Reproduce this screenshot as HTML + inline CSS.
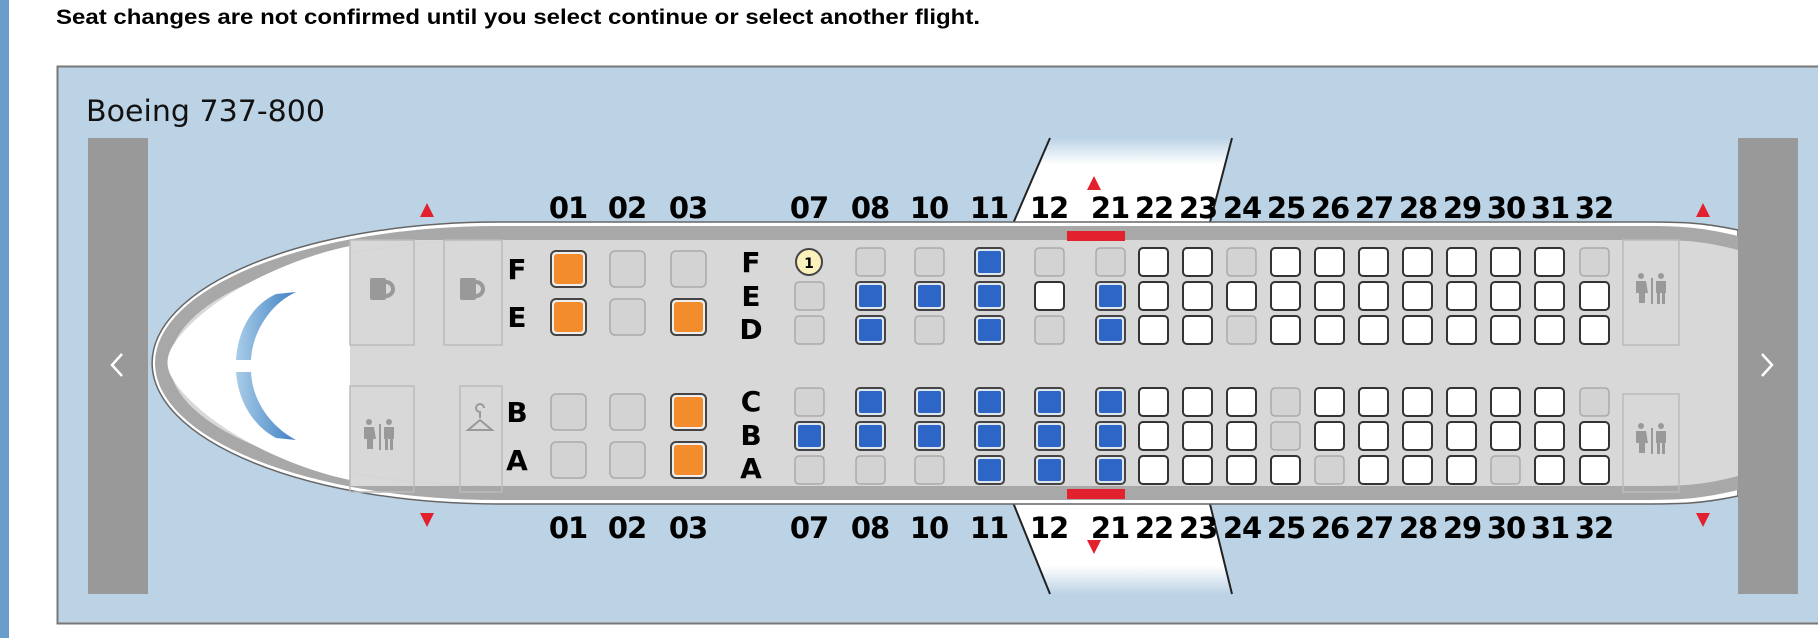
<!DOCTYPE html>
<html><head><meta charset="utf-8"><style>
html,body{margin:0;padding:0;background:#fff;width:1818px;height:638px;overflow:hidden}
svg{position:absolute;left:0;top:0}
</style></head><body>
<svg width="1818" height="638" viewBox="0 0 1818 638" xmlns="http://www.w3.org/2000/svg">
<defs>
<symbol id="w" viewBox="0 0 31 30"><rect x="1" y="1" width="29" height="28" rx="4" fill="#fff" stroke="#333" stroke-width="2"/></symbol>
<symbol id="g" viewBox="0 0 31 30"><rect x="1" y="1" width="29" height="28" rx="4" fill="#d3d3d3" stroke="#aaa" stroke-width="1.5"/></symbol>
<symbol id="b" viewBox="0 0 31 30"><rect x="1" y="1" width="29" height="28" rx="4" fill="#dfe6ee" stroke="#444" stroke-width="2"/><rect x="4" y="4" width="23" height="22" rx="2" fill="#2e66c8"/></symbol>
<symbol id="o" viewBox="0 0 37 38"><rect x="1" y="1" width="35" height="36" rx="5" fill="#eee" stroke="#444" stroke-width="2"/><rect x="4" y="4" width="29" height="30" rx="3" fill="#f28c2c"/></symbol>
<symbol id="G" viewBox="0 0 37 38"><rect x="1" y="1" width="35" height="36" rx="5" fill="#d3d3d3" stroke="#aaa" stroke-width="1.5"/></symbol>
<linearGradient id="wt" x1="0" y1="0" x2="0" y2="1"><stop offset="0" stop-color="#bcd3e6"/><stop offset="0.3" stop-color="#fff"/></linearGradient>
<linearGradient id="wb" x1="0" y1="1" x2="0" y2="0"><stop offset="0" stop-color="#bcd3e6"/><stop offset="0.3" stop-color="#fff"/></linearGradient>
<linearGradient id="ws" x1="0" y1="0" x2="1" y2="0"><stop offset="0" stop-color="#a9cde8"/><stop offset="1" stop-color="#3f7fc4"/></linearGradient>
</defs>
<rect x="0" y="0" width="9" height="638" fill="#6a9ccc"/>
<text x="56" y="24" font-family="Liberation Sans, sans-serif" font-weight="bold" font-size="21" fill="#000" textLength="924" lengthAdjust="spacingAndGlyphs">Seat changes are not confirmed until you select continue or select another flight.</text>
<rect x="57.5" y="66.5" width="1770" height="557" fill="#bcd3e6" stroke="#777" stroke-width="2"/>
<text x="86" y="121" font-family="DejaVu Sans, sans-serif" font-size="29" fill="#111" textLength="239" lengthAdjust="spacingAndGlyphs">Boeing 737-800</text>
<!-- wings -->
<polygon points="1050,138 1232,138 1209,226 1012,226" fill="url(#wt)"/>
<line x1="1050" y1="138" x2="1012" y2="226" stroke="#222" stroke-width="2"/>
<line x1="1232" y1="138" x2="1209" y2="226" stroke="#222" stroke-width="2"/>
<polygon points="1012,500 1209,500 1232,594 1050,594" fill="url(#wb)"/>
<line x1="1050" y1="594" x2="1012" y2="500" stroke="#222" stroke-width="2"/>
<line x1="1232" y1="594" x2="1209" y2="500" stroke="#222" stroke-width="2"/>
<!-- fuselage -->
<path d="M1738,230 C1700,222 1680,222 1640,222 L498,222 A346,141 0 0 0 498,504 L1640,504 C1680,504 1700,504 1738,496 Z" fill="#fff" stroke="#666" stroke-width="1.5"/>
<path d="M1738,236 C1700,227 1680,226 1640,226 L498,226 A343,137 0 0 0 498,500 L1640,500 C1680,500 1700,499 1738,490 Z" fill="#a8a8a8"/>
<path d="M1738,250 C1700,240 1680,240 1640,240 L498,240 A328,123 0 0 0 498,486 L1640,486 C1680,486 1700,486 1738,476 Z" fill="#d8d8d8"/>
<path d="M350,240 L498,240 A328,123 0 0 0 498,486 L350,486 Z" fill="#d8d8d8"/>
<path d="M350,246 L350,480 C300,470 230,440 190,400 C160,370 160,355 190,325 C230,285 300,256 350,246 Z" fill="#fff"/>
<!-- windshield -->
<path d="M296,292 C268,305 252,335 251,360 L236,360 C238,330 252,305 276,294 Z" fill="url(#ws)"/>
<path d="M236,372 L251,372 C252,398 268,425 296,440 L276,438 C252,425 238,400 236,372 Z" fill="url(#ws)"/>
<!-- exit bars -->
<rect x="1067" y="231" width="58" height="10" fill="#e2202e"/>
<rect x="1067" y="489" width="58" height="10" fill="#e2202e"/>
<!-- galley / lav boxes -->
<g fill="none" stroke="#bbb" stroke-width="1.5">
<rect x="350" y="240" width="64" height="105"/><rect x="444" y="240" width="58" height="105"/>
<rect x="350" y="386" width="64" height="106"/><rect x="460" y="386" width="42" height="106"/>
<rect x="1623" y="240" width="56" height="105"/><rect x="1623" y="394" width="56" height="98"/>
</g>
<g fill="#999">
<rect x="370" y="278" width="16" height="22" rx="2"/><path d="M386,282 a7,7 0 0 1 0,14" fill="none" stroke="#999" stroke-width="4"/>
<rect x="460" y="278" width="16" height="22" rx="2"/><path d="M476,282 a7,7 0 0 1 0,14" fill="none" stroke="#999" stroke-width="4"/>
</g>
<path d="M480,418 l0,-6 a4,4 0 1 1 4,-4 M468,430 l12,-10 l12,10 z" fill="none" stroke="#999" stroke-width="2"/>
<g fill="#999">
<g transform="translate(363,420)"><circle cx="6" cy="2" r="3"/><path d="M1,7 h10 l2,12 h-3 v10 h-6 v-10 h-3z"/><rect x="16" y="4" width="2" height="26"/><circle cx="26" cy="2" r="3"/><rect x="21" y="7" width="10" height="12"/><rect x="22" y="19" width="3" height="11"/><rect x="27" y="19" width="3" height="11"/></g>
<g transform="translate(1635,274)"><circle cx="6" cy="2" r="3"/><path d="M1,7 h10 l2,12 h-3 v10 h-6 v-10 h-3z"/><rect x="16" y="4" width="2" height="26"/><circle cx="26" cy="2" r="3"/><rect x="21" y="7" width="10" height="12"/><rect x="22" y="19" width="3" height="11"/><rect x="27" y="19" width="3" height="11"/></g>
<g transform="translate(1635,424)"><circle cx="6" cy="2" r="3"/><path d="M1,7 h10 l2,12 h-3 v10 h-6 v-10 h-3z"/><rect x="16" y="4" width="2" height="26"/><circle cx="26" cy="2" r="3"/><rect x="21" y="7" width="10" height="12"/><rect x="22" y="19" width="3" height="11"/><rect x="27" y="19" width="3" height="11"/></g>
</g>
<!-- side bars -->
<rect x="88" y="138" width="60" height="456" fill="#999"/>
<rect x="1738" y="138" width="60" height="456" fill="#999"/>
<path d="M122,354 l-10,11 l10,11" fill="none" stroke="#fff" stroke-width="2.5"/>
<path d="M1762,354 l10,11 l-10,11" fill="none" stroke="#fff" stroke-width="2.5"/>
<!-- red arrows -->
<g fill="#e2202e">
<polygon points="427,203 420,217 434,217"/><polygon points="427,527 420,513 434,513"/>
<polygon points="1094,176 1087,190 1101,190"/><polygon points="1094,554 1087,540 1101,540"/>
<polygon points="1703,203 1696,217 1710,217"/><polygon points="1703,527 1696,513 1710,513"/>
</g>
<!-- row numbers -->
<g font-family="DejaVu Sans, sans-serif" font-weight="bold" font-size="29" fill="#000" text-anchor="middle" letter-spacing="-1">
<text x="568" y="218">01</text><text x="627" y="218">02</text><text x="688" y="218">03</text><text x="809" y="218">07</text><text x="870" y="218">08</text><text x="929" y="218">10</text><text x="989" y="218">11</text><text x="1049" y="218">12</text><text x="1110" y="218">21</text><text x="1154" y="218">22</text><text x="1198" y="218">23</text><text x="1242" y="218">24</text><text x="1286" y="218">25</text><text x="1330" y="218">26</text><text x="1374" y="218">27</text><text x="1418" y="218">28</text><text x="1462" y="218">29</text><text x="1506" y="218">30</text><text x="1550" y="218">31</text><text x="1594" y="218">32</text>
<text x="568" y="538">01</text><text x="627" y="538">02</text><text x="688" y="538">03</text><text x="809" y="538">07</text><text x="870" y="538">08</text><text x="929" y="538">10</text><text x="989" y="538">11</text><text x="1049" y="538">12</text><text x="1110" y="538">21</text><text x="1154" y="538">22</text><text x="1198" y="538">23</text><text x="1242" y="538">24</text><text x="1286" y="538">25</text><text x="1330" y="538">26</text><text x="1374" y="538">27</text><text x="1418" y="538">28</text><text x="1462" y="538">29</text><text x="1506" y="538">30</text><text x="1550" y="538">31</text><text x="1594" y="538">32</text>
</g>
<g font-family="DejaVu Sans, sans-serif" font-weight="bold" font-size="28" fill="#000" text-anchor="middle">
<text x="517" y="279">F</text><text x="517" y="327">E</text><text x="517" y="422">B</text><text x="517" y="470">A</text>
<text x="751" y="272">F</text><text x="751" y="306">E</text><text x="751" y="339">D</text><text x="751" y="411">C</text><text x="751" y="445">B</text><text x="751" y="478">A</text>
</g>
<!-- first class seats -->
<use href="#o" x="550" y="250" width="37" height="38"/><use href="#o" x="550" y="298" width="37" height="38"/><use href="#G" x="550" y="393" width="37" height="38"/><use href="#G" x="550" y="441" width="37" height="38"/>
<use href="#G" x="609" y="250" width="37" height="38"/><use href="#G" x="609" y="298" width="37" height="38"/><use href="#G" x="609" y="393" width="37" height="38"/><use href="#G" x="609" y="441" width="37" height="38"/>
<use href="#G" x="670" y="250" width="37" height="38"/><use href="#o" x="670" y="298" width="37" height="38"/><use href="#o" x="670" y="393" width="37" height="38"/><use href="#o" x="670" y="441" width="37" height="38"/>
<!-- economy -->
<circle cx="809" cy="262" r="13" fill="#fbf1bd" stroke="#444" stroke-width="2"/>
<text x="809" y="268" text-anchor="middle" font-family="DejaVu Sans, sans-serif" font-weight="bold" font-size="14">1</text>
<use href="#g" x="794" y="281" width="31" height="30"/><use href="#g" x="794" y="315" width="31" height="30"/><use href="#g" x="794" y="387" width="31" height="30"/><use href="#b" x="794" y="421" width="31" height="30"/><use href="#g" x="794" y="455" width="31" height="30"/>
<use href="#g" x="855" y="247" width="31" height="30"/><use href="#b" x="855" y="281" width="31" height="30"/><use href="#b" x="855" y="315" width="31" height="30"/><use href="#b" x="855" y="387" width="31" height="30"/><use href="#b" x="855" y="421" width="31" height="30"/><use href="#g" x="855" y="455" width="31" height="30"/>
<use href="#g" x="914" y="247" width="31" height="30"/><use href="#b" x="914" y="281" width="31" height="30"/><use href="#g" x="914" y="315" width="31" height="30"/><use href="#b" x="914" y="387" width="31" height="30"/><use href="#b" x="914" y="421" width="31" height="30"/><use href="#g" x="914" y="455" width="31" height="30"/>
<use href="#b" x="974" y="247" width="31" height="30"/><use href="#b" x="974" y="281" width="31" height="30"/><use href="#b" x="974" y="315" width="31" height="30"/><use href="#b" x="974" y="387" width="31" height="30"/><use href="#b" x="974" y="421" width="31" height="30"/><use href="#b" x="974" y="455" width="31" height="30"/>
<use href="#g" x="1034" y="247" width="31" height="30"/><use href="#w" x="1034" y="281" width="31" height="30"/><use href="#g" x="1034" y="315" width="31" height="30"/><use href="#b" x="1034" y="387" width="31" height="30"/><use href="#b" x="1034" y="421" width="31" height="30"/><use href="#b" x="1034" y="455" width="31" height="30"/>
<use href="#g" x="1095" y="247" width="31" height="30"/><use href="#b" x="1095" y="281" width="31" height="30"/><use href="#b" x="1095" y="315" width="31" height="30"/><use href="#b" x="1095" y="387" width="31" height="30"/><use href="#b" x="1095" y="421" width="31" height="30"/><use href="#b" x="1095" y="455" width="31" height="30"/>
<use href="#w" x="1138" y="247" width="31" height="30"/><use href="#w" x="1138" y="281" width="31" height="30"/><use href="#w" x="1138" y="315" width="31" height="30"/><use href="#w" x="1138" y="387" width="31" height="30"/><use href="#w" x="1138" y="421" width="31" height="30"/><use href="#w" x="1138" y="455" width="31" height="30"/>
<use href="#w" x="1182" y="247" width="31" height="30"/><use href="#w" x="1182" y="281" width="31" height="30"/><use href="#w" x="1182" y="315" width="31" height="30"/><use href="#w" x="1182" y="387" width="31" height="30"/><use href="#w" x="1182" y="421" width="31" height="30"/><use href="#w" x="1182" y="455" width="31" height="30"/>
<use href="#g" x="1226" y="247" width="31" height="30"/><use href="#w" x="1226" y="281" width="31" height="30"/><use href="#g" x="1226" y="315" width="31" height="30"/><use href="#w" x="1226" y="387" width="31" height="30"/><use href="#w" x="1226" y="421" width="31" height="30"/><use href="#w" x="1226" y="455" width="31" height="30"/>
<use href="#w" x="1270" y="247" width="31" height="30"/><use href="#w" x="1270" y="281" width="31" height="30"/><use href="#w" x="1270" y="315" width="31" height="30"/><use href="#g" x="1270" y="387" width="31" height="30"/><use href="#g" x="1270" y="421" width="31" height="30"/><use href="#w" x="1270" y="455" width="31" height="30"/>
<use href="#w" x="1314" y="247" width="31" height="30"/><use href="#w" x="1314" y="281" width="31" height="30"/><use href="#w" x="1314" y="315" width="31" height="30"/><use href="#w" x="1314" y="387" width="31" height="30"/><use href="#w" x="1314" y="421" width="31" height="30"/><use href="#g" x="1314" y="455" width="31" height="30"/>
<use href="#w" x="1358" y="247" width="31" height="30"/><use href="#w" x="1358" y="281" width="31" height="30"/><use href="#w" x="1358" y="315" width="31" height="30"/><use href="#w" x="1358" y="387" width="31" height="30"/><use href="#w" x="1358" y="421" width="31" height="30"/><use href="#w" x="1358" y="455" width="31" height="30"/>
<use href="#w" x="1402" y="247" width="31" height="30"/><use href="#w" x="1402" y="281" width="31" height="30"/><use href="#w" x="1402" y="315" width="31" height="30"/><use href="#w" x="1402" y="387" width="31" height="30"/><use href="#w" x="1402" y="421" width="31" height="30"/><use href="#w" x="1402" y="455" width="31" height="30"/>
<use href="#w" x="1446" y="247" width="31" height="30"/><use href="#w" x="1446" y="281" width="31" height="30"/><use href="#w" x="1446" y="315" width="31" height="30"/><use href="#w" x="1446" y="387" width="31" height="30"/><use href="#w" x="1446" y="421" width="31" height="30"/><use href="#w" x="1446" y="455" width="31" height="30"/>
<use href="#w" x="1490" y="247" width="31" height="30"/><use href="#w" x="1490" y="281" width="31" height="30"/><use href="#w" x="1490" y="315" width="31" height="30"/><use href="#w" x="1490" y="387" width="31" height="30"/><use href="#w" x="1490" y="421" width="31" height="30"/><use href="#g" x="1490" y="455" width="31" height="30"/>
<use href="#w" x="1534" y="247" width="31" height="30"/><use href="#w" x="1534" y="281" width="31" height="30"/><use href="#w" x="1534" y="315" width="31" height="30"/><use href="#w" x="1534" y="387" width="31" height="30"/><use href="#w" x="1534" y="421" width="31" height="30"/><use href="#w" x="1534" y="455" width="31" height="30"/>
<use href="#g" x="1579" y="247" width="31" height="30"/><use href="#w" x="1579" y="281" width="31" height="30"/><use href="#w" x="1579" y="315" width="31" height="30"/><use href="#g" x="1579" y="387" width="31" height="30"/><use href="#w" x="1579" y="421" width="31" height="30"/><use href="#w" x="1579" y="455" width="31" height="30"/>
</svg>
</body></html>
